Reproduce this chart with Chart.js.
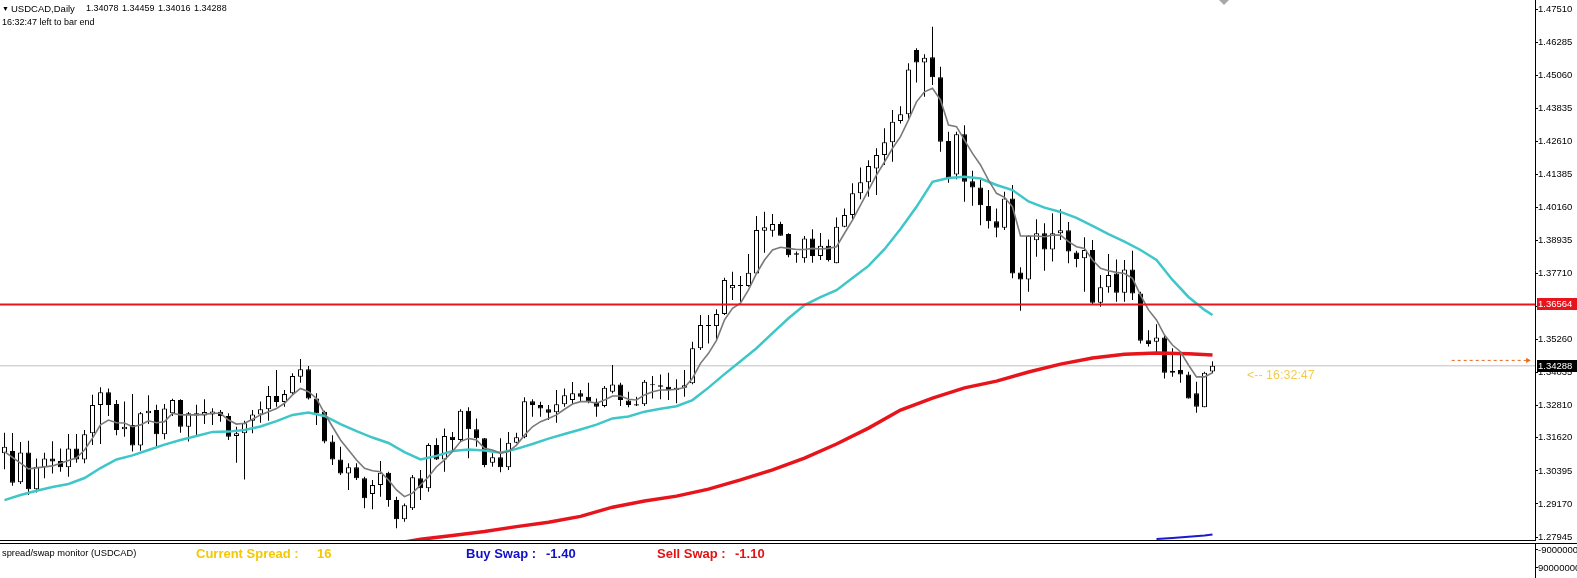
<!DOCTYPE html>
<html>
<head>
<meta charset="utf-8">
<script src="https://cdn.jsdelivr.net/npm/chart.js@4.4.1/dist/chart.umd.min.js"></script>
<style>
  html, body { margin: 0; padding: 0; background: #fff; }
  #wrap { position: relative; width: 1577px; height: 578px; overflow: hidden; font-family: "Liberation Sans", Arial, sans-serif; }
  #chart { position: absolute; left: 0; top: 0; }
  .t { position: absolute; white-space: pre; line-height: 1; color: #000; }
  .b { font-weight: bold; font-size: 13px; }
</style>
</head>
<body>
<div id="wrap">
  <canvas id="chart" width="1577" height="578"></canvas>
  <div class="t" style="left:2px;top:5px;font-size:7px;">&#9660;</div>
  <div class="t" style="left:11px;top:3.5px;font-size:9.5px;">USDCAD,Daily</div>
  <div class="t" id="ohlc" style="left:86px;top:4px;font-size:9px;word-spacing:1px;"></div>
  <div class="t" style="left:2px;top:17.5px;font-size:9px;">16:32:47 left to bar end</div>
  <div class="t" style="left:1247px;top:369px;font-size:12.5px;color:#f0cc50;">&lt;-- 16:32:47</div>

  <div class="t" style="left:2px;top:548.5px;font-size:9.3px;">spread/swap monitor (USDCAD)</div>
  <div class="t b" style="left:196px;top:546.5px;color:#f5c800;">Current Spread :</div>
  <div class="t b" style="left:317px;top:546.5px;color:#f5c800;">16</div>
  <div class="t b" style="left:466px;top:546.5px;color:#1010c8;">Buy Swap :</div>
  <div class="t b" style="left:546px;top:546.5px;color:#1010c8;">-1.40</div>
  <div class="t b" style="left:657px;top:546.5px;color:#e01414;">Sell Swap :</div>
  <div class="t b" style="left:735px;top:546.5px;color:#e01414;">-1.10</div>
  <div class="t" style="left:1538px;top:544.5px;font-size:9.5px;">-9000000</div>
  <div class="t" style="left:1538px;top:562.5px;font-size:9.5px;">90000000</div>
</div>
<script>
// daily candles, oldest first
const opens = [
  1.3105, 1.3113, 1.2997, 1.3108, 1.2971, 1.3053, 1.3085, 1.3076, 1.3053, 1.3122,
  1.3082, 1.3179, 1.3284, 1.3331, 1.3287, 1.3194, 1.3210, 1.3134, 1.3253, 1.3265,
  1.3175, 1.3253, 1.3302, 1.3203, 1.3253, 1.3245, 1.3248, 1.3259, 1.3243, 1.3169,
  1.3179, 1.3225, 1.3248, 1.3268, 1.3317, 1.3295, 1.3327, 1.3388, 1.3416, 1.3308,
  1.3259, 1.3148, 1.3082, 1.3030, 1.3053, 1.3012, 1.2954, 1.2987, 1.3033, 1.2932,
  1.2860, 1.2901, 1.3012, 1.2975, 1.3135, 1.3082, 1.3166, 1.3154, 1.3262, 1.3194,
  1.3160, 1.3070, 1.3090, 1.3053, 1.3144, 1.3164, 1.3298, 1.3284, 1.3268, 1.3257,
  1.3286, 1.3302, 1.3327, 1.3314, 1.3296, 1.3280, 1.3333, 1.3360, 1.3300, 1.3286,
  1.3286, 1.3361, 1.3357, 1.3351, 1.3339, 1.3348, 1.3364, 1.3494, 1.3580, 1.3576,
  1.3621, 1.3716, 1.3725, 1.3725, 1.3771, 1.3929, 1.3929, 1.3954, 1.3917, 1.3846,
  1.3827, 1.3901, 1.3836, 1.3874, 1.3809, 1.3944, 1.3988, 1.4068, 1.4109, 1.4160,
  1.4210, 1.4257, 1.4336, 1.4361, 1.4599, 1.4553, 1.4572, 1.4498, 1.4262, 1.4138,
  1.4287, 1.4113, 1.4090, 1.4021, 1.3965, 1.3940, 1.4049, 1.3775, 1.3749, 1.3894,
  1.3920, 1.3860, 1.3920, 1.3931, 1.3849, 1.3827, 1.3858, 1.3663, 1.3720, 1.3771,
  1.3700, 1.3786, 1.3697, 1.3524, 1.3518, 1.3534, 1.3403, 1.3413, 1.3397, 1.3327,
  1.3275, 1.34078
];
const highs = [
  1.3181, 1.3180, 1.3147, 1.3151, 1.3085, 1.3107, 1.3149, 1.3122, 1.3176, 1.3176,
  1.3191, 1.3322, 1.3349, 1.3345, 1.3302, 1.3297, 1.3324, 1.3258, 1.3320, 1.3285,
  1.3287, 1.3307, 1.3305, 1.3258, 1.3285, 1.3305, 1.3272, 1.3265, 1.3253, 1.3203,
  1.3225, 1.3265, 1.3297, 1.3354, 1.3413, 1.3339, 1.3401, 1.3454, 1.3428, 1.3327,
  1.3262, 1.3172, 1.3129, 1.3068, 1.3068, 1.3018, 1.3006, 1.3076, 1.3036, 1.2944,
  1.2919, 1.3024, 1.3043, 1.3142, 1.3160, 1.3197, 1.3184, 1.3268, 1.3275, 1.3234,
  1.3161, 1.3105, 1.3160, 1.3184, 1.3181, 1.3312, 1.3305, 1.3296, 1.3284, 1.3339,
  1.3345, 1.3369, 1.3339, 1.3366, 1.3308, 1.3354, 1.3432, 1.3366, 1.3333, 1.3314,
  1.3376, 1.3391, 1.3397, 1.3403, 1.3379, 1.3413, 1.3518, 1.3617, 1.3617, 1.3638,
  1.3755, 1.3777, 1.3762, 1.3843, 1.3984, 1.4000, 1.3991, 1.3963, 1.3920, 1.3852,
  1.3910, 1.3935, 1.3921, 1.3897, 1.3978, 1.4012, 1.4105, 1.4164, 1.4191, 1.4235,
  1.4309, 1.4377, 1.4391, 1.4550, 1.4606, 1.4583, 1.4685, 1.4537, 1.4296, 1.4296,
  1.4320, 1.4152, 1.4117, 1.4080, 1.4012, 1.4074, 1.4099, 1.3794, 1.3913, 1.3972,
  1.3957, 1.3994, 1.4009, 1.3962, 1.3855, 1.3905, 1.3895, 1.3765, 1.3843, 1.3823,
  1.3821, 1.3855, 1.3703, 1.3561, 1.3583, 1.3543, 1.3494, 1.3475, 1.3407, 1.3370,
  1.3407, 1.34459
];
const lows = [
  1.3046, 1.2984, 1.2991, 1.2950, 1.2959, 1.3012, 1.3030, 1.3036, 1.3018, 1.3070,
  1.3068, 1.3135, 1.3139, 1.3243, 1.3172, 1.3166, 1.3111, 1.3114, 1.3213, 1.3132,
  1.3157, 1.3243, 1.3181, 1.3148, 1.3172, 1.3213, 1.3210, 1.3222, 1.3154, 1.3070,
  1.3008, 1.3179, 1.3218, 1.3225, 1.3277, 1.3277, 1.3321, 1.3366, 1.3304, 1.3210,
  1.3142, 1.3061, 1.3024, 1.2969, 1.3006, 1.2901, 1.2897, 1.2944, 1.2907, 1.2827,
  1.2851, 1.2895, 1.2932, 1.2962, 1.3080, 1.3036, 1.3117, 1.3150, 1.3086, 1.3129,
  1.3053, 1.3055, 1.3034, 1.3043, 1.3142, 1.3160, 1.3240, 1.3240, 1.3228, 1.3218,
  1.3277, 1.3284, 1.3296, 1.3290, 1.3240, 1.3275, 1.3327, 1.3280, 1.3275, 1.3280,
  1.3280, 1.3308, 1.3305, 1.3302, 1.3290, 1.3314, 1.3361, 1.3487, 1.3512, 1.3524,
  1.3617, 1.3673, 1.3666, 1.3722, 1.3769, 1.3848, 1.3907, 1.3911, 1.3831, 1.3811,
  1.3811, 1.3811, 1.3821, 1.3815, 1.3809, 1.3942, 1.3969, 1.4046, 1.4055, 1.4062,
  1.4173, 1.4185, 1.4327, 1.4340, 1.4479, 1.4426, 1.4469, 1.4222, 1.4107, 1.4120,
  1.4037, 1.4022, 1.3950, 1.3938, 1.3905, 1.3932, 1.3753, 1.3633, 1.3703, 1.3833,
  1.3781, 1.3815, 1.3895, 1.3809, 1.3794, 1.3703, 1.3654, 1.3648, 1.3700, 1.3666,
  1.3666, 1.3673, 1.3512, 1.3500, 1.3475, 1.3382, 1.3388, 1.3366, 1.3308, 1.3255,
  1.3275, 1.34016
];
const closes = [
  1.3129, 1.2996, 1.3108, 1.2971, 1.3055, 1.3085, 1.3074, 1.3053, 1.3122, 1.3082,
  1.3175, 1.3284, 1.3331, 1.3284, 1.3191, 1.3203, 1.3134, 1.3253, 1.3262, 1.3175,
  1.3271, 1.3302, 1.3203, 1.3253, 1.3245, 1.3258, 1.3260, 1.3243, 1.3166, 1.3179,
  1.3216, 1.3248, 1.3268, 1.3317, 1.3295, 1.3324, 1.3391, 1.3416, 1.3308, 1.3253,
  1.3148, 1.3082, 1.3030, 1.3053, 1.3012, 1.2938, 1.2987, 1.3033, 1.2932, 1.2860,
  1.2912, 1.3016, 1.2975, 1.3135, 1.3082, 1.3169, 1.3154, 1.3262, 1.3194, 1.3160,
  1.3061, 1.3090, 1.3053, 1.3144, 1.3164, 1.3298, 1.3284, 1.3271, 1.3255, 1.3286,
  1.3320, 1.3327, 1.3314, 1.3296, 1.3277, 1.3348, 1.3360, 1.3302, 1.3284, 1.3282,
  1.3370, 1.3357, 1.3351, 1.3339, 1.3348, 1.3357, 1.3494, 1.3580, 1.3576, 1.3621,
  1.3747, 1.3728, 1.3728, 1.3774, 1.3932, 1.3942, 1.3954, 1.3911, 1.3839, 1.3840,
  1.3901, 1.3836, 1.3874, 1.3821, 1.3944, 1.3988, 1.4068, 1.4109, 1.4169, 1.4210,
  1.4257, 1.4333, 1.4361, 1.4527, 1.4553, 1.4570, 1.4498, 1.4259, 1.4124, 1.4287,
  1.4111, 1.4090, 1.4024, 1.3965, 1.3940, 1.4049, 1.3771, 1.3749, 1.3911, 1.3920,
  1.3860, 1.3920, 1.3931, 1.3852, 1.3825, 1.3858, 1.3663, 1.3720, 1.3765, 1.3700,
  1.3786, 1.3697, 1.3522, 1.3510, 1.3534, 1.3403, 1.3411, 1.3397, 1.3308, 1.3277,
  1.3403, 1.34288
];

// fast moving average (grey)
const fastIdx = [0, 3, 6, 9, 10, 11, 12, 13, 14, 15, 16, 17, 18, 19, 20, 21, 22, 23, 24, 25, 26, 27, 28, 29,
  30, 31, 32, 33, 34, 35, 36, 37, 38, 39, 40, 41, 42, 43, 44, 45, 46, 47, 48, 49, 50, 51, 52, 53, 54, 55,
  56, 57, 58, 59, 60, 61, 62, 63, 64, 65, 66, 67, 68, 69, 70, 71, 72, 73, 74, 75, 76, 77, 78, 79, 80, 81,
  82, 83, 84, 85, 86, 87, 88, 89, 90, 91, 92, 93, 94, 95, 96, 97, 98, 99, 100, 101, 102, 103, 104, 105,
  106, 107, 108, 109, 110, 111, 112, 113, 114, 115, 116, 117, 118, 119, 120, 121, 122, 123, 124, 125,
  126, 127, 128, 129, 130, 131, 132, 133, 134, 135, 136, 137, 138, 139, 140, 141, 142, 143, 144, 145,
  146, 147, 148, 149, 150, 151];
const fastMA = [1.3111, 1.3047, 1.3058, 1.3088, 1.3117, 1.3161, 1.3210, 1.3228, 1.3218, 1.3217, 1.3203,
  1.3210, 1.3225, 1.3218, 1.3222, 1.3253, 1.3247, 1.3247, 1.3247, 1.3249, 1.3253, 1.3253, 1.3228, 1.3213,
  1.3216, 1.3231, 1.3247, 1.3259, 1.3271, 1.3290, 1.3321, 1.3345, 1.3333, 1.3308, 1.3253, 1.3203, 1.3154,
  1.3117, 1.3080, 1.3049, 1.3040, 1.3036, 1.3006, 1.2969, 1.2944, 1.2957, 1.2987, 1.3018, 1.3055, 1.3080,
  1.3111, 1.3148, 1.3160, 1.3154, 1.3123, 1.3117, 1.3105, 1.3111, 1.3135, 1.3172, 1.3203, 1.3222, 1.3234,
  1.3247, 1.3268, 1.3287, 1.3296, 1.3296, 1.3290, 1.3302, 1.3317, 1.3317, 1.3305, 1.3302, 1.3321, 1.3333,
  1.3339, 1.3339, 1.3342, 1.3348, 1.3383, 1.3438, 1.3475, 1.3523, 1.3599, 1.3642, 1.3661, 1.3710, 1.3771,
  1.3821, 1.3858, 1.3868, 1.3864, 1.3860, 1.3860, 1.3864, 1.3862, 1.3864, 1.3870, 1.3920, 1.3969, 1.4024,
  1.4080, 1.4136, 1.4184, 1.4235, 1.4278, 1.4340, 1.4407, 1.4444, 1.4457, 1.4414, 1.4321, 1.4315, 1.4265,
  1.4216, 1.4173, 1.4117, 1.4068, 1.4053, 1.4018, 1.3910, 1.3910, 1.3910, 1.3907, 1.3913, 1.3913, 1.3889,
  1.3870, 1.3864, 1.3821, 1.3790, 1.3781, 1.3775, 1.3771, 1.3753, 1.3691, 1.3636, 1.3599, 1.3543, 1.3506,
  1.3481, 1.3432, 1.3388, 1.3388, 1.3403];

// medium moving average (turquoise)
const midIdx = [0, 2, 4, 6, 8, 10, 12, 14, 16, 18, 20, 22, 24, 26, 28, 30, 32, 34, 36, 38, 40, 42, 44, 46,
  48, 50, 52, 54, 56, 58, 60, 62, 64, 66, 68, 70, 72, 74, 76, 78, 80, 82, 84, 86, 88, 90, 92, 94, 96, 98,
  100, 102, 104, 106, 108, 110, 112, 114, 116, 118, 120, 122, 124, 126, 128, 130, 132, 134, 136, 138, 140,
  142, 144, 146, 148, 150, 151];
const midMA = [1.2931, 1.2950, 1.2966, 1.2980, 1.2991, 1.3013, 1.3050, 1.3082, 1.3097, 1.3117, 1.3137,
  1.3154, 1.3169, 1.3184, 1.3185, 1.3191, 1.3204, 1.3224, 1.3247, 1.3256, 1.3243, 1.3213, 1.3187, 1.3163,
  1.3143, 1.3109, 1.3082, 1.3095, 1.3113, 1.3119, 1.3115, 1.3107, 1.3121, 1.3139, 1.3159, 1.3176, 1.3193,
  1.3211, 1.3234, 1.3241, 1.3259, 1.3270, 1.3279, 1.3302, 1.3348, 1.3398, 1.3446, 1.3494, 1.3550, 1.3605,
  1.3654, 1.3683, 1.3709, 1.3754, 1.3799, 1.3861, 1.3936, 1.4018, 1.4111, 1.4125, 1.4129, 1.4123, 1.4099,
  1.4080, 1.4038, 1.4015, 1.3999, 1.3977, 1.3947, 1.3917, 1.3889, 1.3858, 1.3821, 1.3747, 1.3684, 1.3636,
  1.3617];

// slow moving average (red)
const slowIdx = [50, 52, 56, 60, 64, 68, 72, 76, 80, 84, 88, 92, 96, 100, 104, 108, 112, 116, 120, 124,
  128, 132, 136, 140, 144, 148, 151];
const slowMA = [1.2776, 1.2786, 1.2800, 1.2815, 1.2833, 1.2849, 1.2871, 1.2905, 1.2928, 1.2946, 1.2972,
  1.3006, 1.3043, 1.3087, 1.3139, 1.3198, 1.3265, 1.3309, 1.3347, 1.3372, 1.3406, 1.3435, 1.3458, 1.3472,
  1.3476, 1.3474, 1.3469];

// blue line peeking in at the bottom right
const blueIdx = [144, 146, 148, 150, 151];
const blueMA = [1.2787, 1.2791, 1.2795, 1.2800, 1.2804];

const priceTicks = [1.47510, 1.46285, 1.45060, 1.43835, 1.42610, 1.41385, 1.40160, 1.38935, 1.37710,
  1.36485, 1.35260, 1.34035, 1.32810, 1.31620, 1.30395, 1.29170, 1.27945];
const levelPrice = 1.36564;
const askArrowPrice = 1.3449;
const askArrowIdx = [180.9, 190.4];

const last = closes.length - 1;
const bidPrice = closes[last];
document.getElementById('ohlc').textContent =
  [opens[last], highs[last], lows[last], closes[last]].map(v => v.toFixed(5)).join(' ');

const X_MIN = -0.5625, X_MAX = 191.3125;
const Y_MIN = 1.27834, Y_MAX = 1.47844;

const pts = (idx, vals) => idx.map((x, k) => ({ x: x, y: vals[k] }));
const hline = (p) => [{ x: X_MIN, y: p }, { x: X_MAX, y: p }];

const wickData = highs.map((h, i) => ({ x: i, y: [lows[i], h] }));
const bodyData = opens.map((o, i) => ({ x: i, y: [o, closes[i]] }));

function priceTag(ctx, area, yScale, price, bg) {
  const y = Math.round(yScale.getPixelForValue(price));
  ctx.fillStyle = bg;
  ctx.fillRect(area.right + 2, y - 6, 42, 12);
  ctx.fillStyle = '#fff';
  ctx.font = '9.5px "Liberation Sans"';
  ctx.textBaseline = 'middle';
  ctx.fillText(price.toFixed(5), area.right + 3, y + 0.5);
}

const panelPlugin = {
  id: 'panel',
  afterDraw(chart) {
    const { ctx, chartArea: a, scales } = chart;
    ctx.save();
    ctx.fillStyle = '#000';
    ctx.fillRect(0, a.bottom, a.right + 1, 1);
    ctx.fillRect(0, a.bottom + 3, chart.width, 1);
    ctx.fillRect(a.right, a.bottom + 3, 1, chart.height - a.bottom - 3);
    ctx.fillRect(a.right, 549, 3, 1);
    ctx.fillRect(a.right, 567, 3, 1);
    priceTag(ctx, a, scales.y, levelPrice, '#e8141c');
    priceTag(ctx, a, scales.y, bidPrice, '#000');
    // chart shift marker
    ctx.fillStyle = '#a8a8a8';
    ctx.beginPath();
    ctx.moveTo(1219, 0);
    ctx.lineTo(1229, 0);
    ctx.lineTo(1224, 5);
    ctx.closePath();
    ctx.fill();
    ctx.restore();
  }
};

new Chart(document.getElementById('chart'), {
  type: 'bar',
  data: {
    datasets: [
      { type: 'line', data: hline(bidPrice), borderColor: '#c0c0c0', borderWidth: 1, pointRadius: 0, order: 6 },
      { data: wickData, backgroundColor: '#000', barThickness: 1, grouped: false, inflateAmount: 0, order: 5 },
      {
        data: bodyData,
        backgroundColor: (c) => (c.raw && c.raw.y[1] >= c.raw.y[0]) ? '#fff' : '#000',
        borderColor: '#000', borderWidth: 1, borderSkipped: false,
        barThickness: 5, grouped: false, inflateAmount: 0, minBarLength: 1, order: 4
      },
      { type: 'line', data: pts(slowIdx, slowMA), borderColor: '#e8141c', borderWidth: 3.5, pointRadius: 0, clip: 0, order: 3 },
      { type: 'line', data: pts(blueIdx, blueMA), borderColor: '#1a1ad0', borderWidth: 2, pointRadius: 0, clip: 0, order: 3 },
      { type: 'line', data: pts(midIdx, midMA), borderColor: '#3ec6c8', borderWidth: 2.5, pointRadius: 0, clip: 0, order: 2 },
      { type: 'line', data: pts(fastIdx, fastMA), borderColor: '#7a7a7a', borderWidth: 1.6, pointRadius: 0, clip: 0, order: 1 },
      { type: 'line', data: hline(levelPrice), borderColor: '#e8141c', borderWidth: 2, pointRadius: 0, order: 0 },
      {
        type: 'line', data: pts(askArrowIdx, [askArrowPrice, askArrowPrice]),
        borderColor: '#e8681e', borderWidth: 1, borderDash: [3, 3],
        pointRadius: [0, 3], pointStyle: 'triangle', pointRotation: 90,
        pointBackgroundColor: '#e8681e', pointBorderWidth: 0, order: 0
      }
    ]
  },
  options: {
    responsive: false,
    animation: false,
    devicePixelRatio: 1,
    events: [],
    layout: { autoPadding: false, padding: { left: 0, top: 0, right: 0, bottom: 38 } },
    plugins: { legend: { display: false }, tooltip: { enabled: false } },
    scales: {
      x: { type: 'linear', display: false, min: X_MIN, max: X_MAX, offset: false },
      y: {
        type: 'linear',
        position: 'right',
        min: Y_MIN,
        max: Y_MAX,
        beginAtZero: false,
        afterBuildTicks: (s) => { s.ticks = priceTicks.map(v => ({ value: v })); },
        afterFit: (s) => { s.width = 42; s.paddingTop = 0; s.paddingBottom = 0; },
        ticks: {
          autoSkip: false,
          padding: 0,
          color: '#000',
          font: { family: 'Liberation Sans', size: 9.5 },
          callback: (v) => Number(v).toFixed(5)
        },
        grid: { drawOnChartArea: false, drawTicks: true, tickLength: 3, color: '#000' },
        border: { display: true, color: '#000', width: 1 }
      }
    }
  },
  plugins: [panelPlugin]
});
</script>
</body>
</html>
